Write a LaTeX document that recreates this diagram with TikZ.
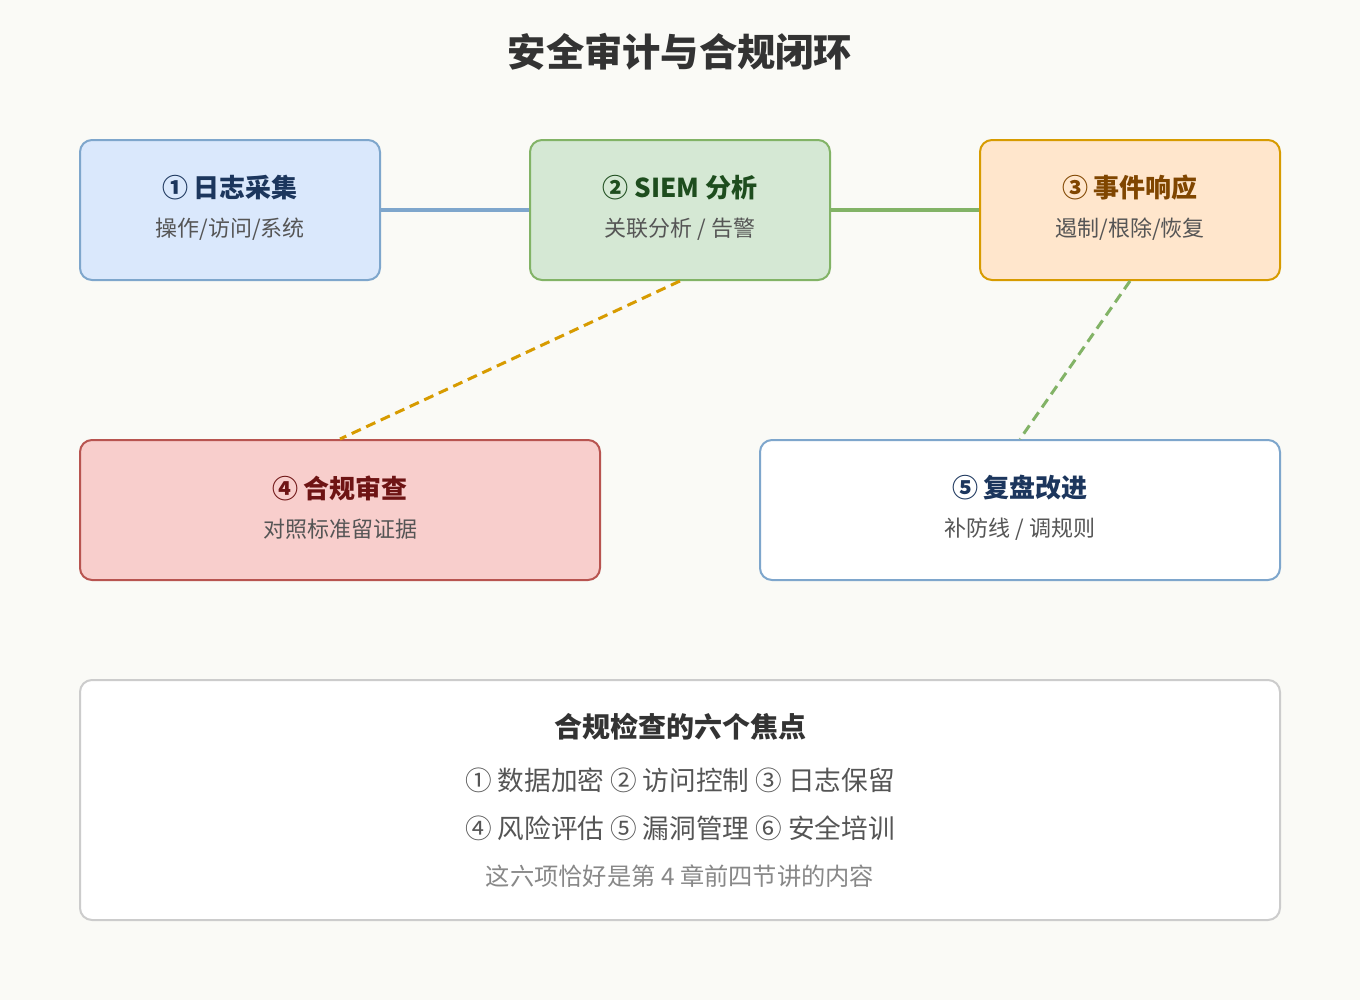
\documentclass[tikz,border=0pt]{standalone}
\usepackage{fontspec}
\setmainfont{Noto Sans CJK SC}
\usetikzlibrary{positioning}
\definecolor{pagebg}{RGB}{250, 250, 246}
\definecolor{titlecolor}{RGB}{51, 51, 51}
\definecolor{subcolor}{RGB}{85, 85, 85}
\definecolor{notecolor}{RGB}{136, 136, 136}
\definecolor{collectfill}{RGB}{218, 232, 252}
\definecolor{collectline}{RGB}{126, 166, 204}
\definecolor{collecttext}{RGB}{28, 54, 93}
\definecolor{siemfill}{RGB}{213, 232, 212}
\definecolor{siemline}{RGB}{130, 179, 102}
\definecolor{siemtext}{RGB}{30, 77, 30}
\definecolor{respfill}{RGB}{255, 230, 204}
\definecolor{respline}{RGB}{215, 155, 0}
\definecolor{resptext}{RGB}{128, 70, 0}
\definecolor{auditfill}{RGB}{248, 206, 204}
\definecolor{auditline}{RGB}{184, 84, 80}
\definecolor{audittext}{RGB}{110, 20, 20}
\definecolor{reviewline}{RGB}{126, 166, 204}
\definecolor{focusline}{RGB}{204, 204, 204}
\tikzset{
  stagebox/.style={draw, line width=1.5pt, rounded corners=9pt, minimum width=225pt, minimum height=105pt},
  widebox/.style={stagebox, minimum width=390pt},
  stagetitle/.style={font=\fontsize{19.5pt}{22pt}\selectfont\bfseries},
  stagesub/.style={font=\fontsize{16.5pt}{19pt}\selectfont, text=subcolor},
  focusline/.style={font=\fontsize{20pt}{23pt}\selectfont, text=subcolor},
  link/.style={line width=3pt},
  looplink/.style={line width=2.25pt, dash pattern=on 7.5pt off 4.5pt}
}
\begin{document}
\begin{tikzpicture}[x=0.75pt, y=-0.75pt]
        \fill[pagebg] (0, 0) rectangle (1360, 1000);
        \useasboundingbox (0, 0) rectangle (1360, 1000);

        % Title
        \node[font=\fontsize{28.7pt}{32pt}\selectfont\bfseries, text=titlecolor] (title) at (680, 52) {安全审计与合规闭环};

        % Log collection
        \node[stagebox, fill=collectfill, draw=collectline] (collect) at (230, 210) {};
        \node[stagetitle, text=collecttext] (collecttitle) at (230, 188) {① 日志采集};
        \node[stagesub] (collectsub) at (230, 229) {操作/访问/系统};

        % SIEM
        \node[stagebox, fill=siemfill, draw=siemline] (siem) at (680, 210) {};
        \node[stagetitle, text=siemtext] (siemtitle) at (680, 188) {② SIEM 分析};
        \node[stagesub] (siemsub) at (680, 229) {关联分析 / 告警};

        % Incident response
        \node[stagebox, fill=respfill, draw=respline] (resp) at (1130, 210) {};
        \node[stagetitle, text=resptext] (resptitle) at (1130, 188) {③ 事件响应};
        \node[stagesub] (respsub) at (1130, 229) {遏制/根除/恢复};

        % Compliance audit
        \node[widebox, fill=auditfill, draw=auditline] (audit) at (340, 510) {};
        \node[stagetitle, text=audittext] (audittitle) at (340, 488) {④ 合规审查};
        \node[stagesub] (auditsub) at (340, 529) {对照标准留证据};

        % Review
        \node[widebox, fill=white, draw=reviewline] (review) at (1020, 510) {};
        \node[stagetitle, text=collecttext] (reviewtitle) at (1020, 488) {⑤ 复盘改进};
        \node[stagesub] (reviewsub) at (1020, 529) {补防线 / 调规则};

        % Connections
        \draw[link, collectline] (collect) -- (siem);
        \draw[link, siemline] (siem) -- (resp);
        \draw[looplink, respline] (siem.south) -- (audit.north);
        \draw[looplink, siemline] (resp.south) -- (review.north);

        % Six focus points
        \node[draw=focusline, line width=1.5pt, fill=white, rounded corners=9pt, minimum width=900pt, minimum height=180pt] (focus) at (680, 800) {};
        \node[font=\fontsize{21pt}{24pt}\selectfont\bfseries, text=titlecolor] (focustitle) at (680, 727) {合规检查的六个焦点};
        \node[focusline] (focusa) at (680, 780) {① 数据加密 ② 访问控制 ③ 日志保留};
        \node[focusline] (focusb) at (680, 828) {④ 风险评估 ⑤ 漏洞管理 ⑥ 安全培训};
        \node[font=\fontsize{18.2pt}{21pt}\selectfont, text=notecolor] (focusnote) at (680, 876) {这六项恰好是第 4 章前四节讲的内容};
\end{tikzpicture}
\end{document}
